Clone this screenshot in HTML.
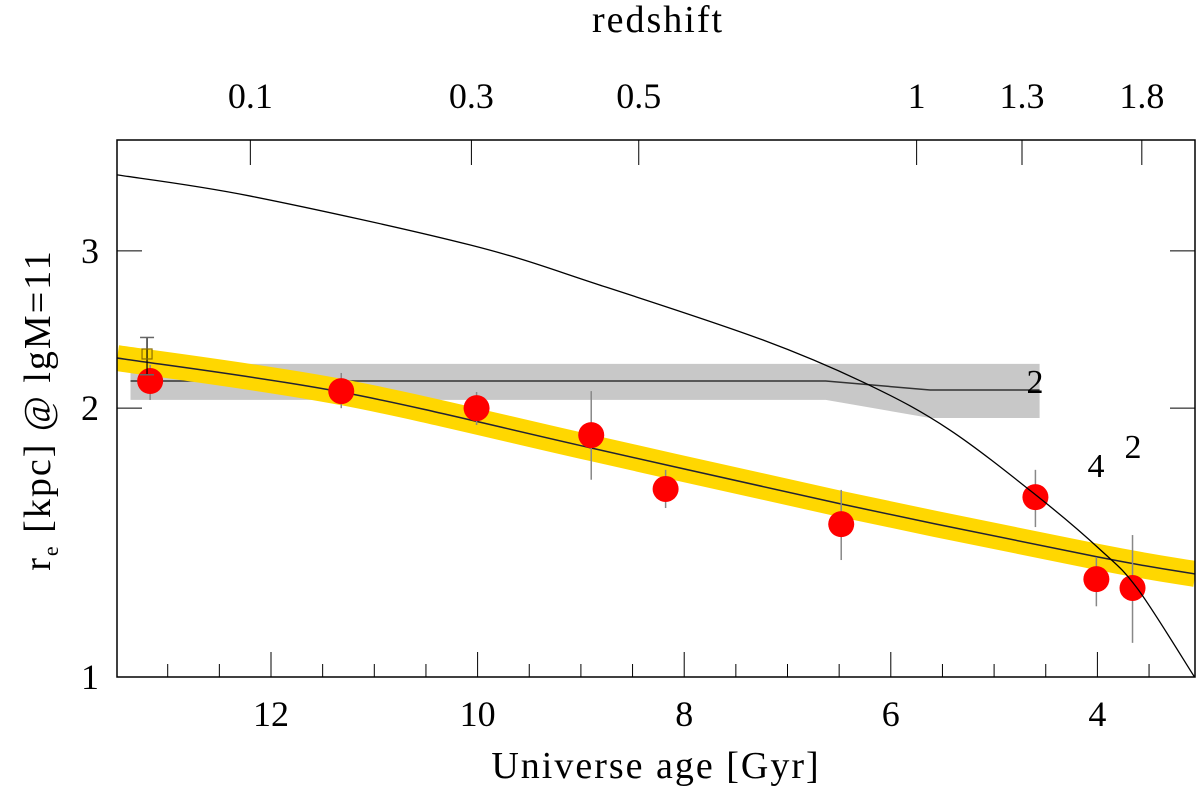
<!DOCTYPE html>
<html><head><meta charset="utf-8"><style>
body{margin:0;background:#fff}
text{font-family:"Liberation Serif","DejaVu Serif",serif;fill:#000}
</style></head><body>
<svg id="c" width="1200" height="790" xmlns="http://www.w3.org/2000/svg"></svg>
<script>
const pointAges=[13.17,11.32,10.01,8.90,8.18,6.48,4.60,4.01,3.66];
const pointR=[2.145,2.09,2.0,1.866,1.624,1.483,1.59,1.287,1.258];
const pointRLow=[2.043,2.0,1.915,1.663,1.546,1.352,1.472,1.20,1.092];
const pointRHigh=[2.236,2.19,2.085,2.09,1.706,1.62,1.706,1.362,1.442];
const squareAge=[13.2];const squareR=[2.3];const squareLow=[2.18];const squareHigh=[2.40];
const fitAges=[13.49,11.32,8.9,6.48,4.0,3.05];
const fitR=[2.276,2.085,1.805,1.562,1.363,1.304];
const grayAges=[13.36,6.63,5.62,4.56];
const grayTop=[2.242,2.242,2.242,2.242];
const grayBottom=[2.043,2.043,1.95,1.95];
const grayMid=[2.145,2.145,2.096,2.096];
const curveAges=[13.49,12.20,10.07,8.82,7.24,6.21,5.43,4.57,3.98,3.61,3.06];
const curveR=[3.65,3.456,3.046,2.748,2.385,2.123,1.891,1.59,1.391,1.255,1.0];
const xTicks=[12,10,8,6,4];
const yTicks=[1,2,3];
const zTicks=["0.1","0.3","0.5","1","1.3","1.8"];
const zTickAges=[12.20,10.06,8.44,5.75,4.73,3.57];

const L=117,R=1195,T=140,B=677;
const X=a=>271+(12-a)*103.3;
const Y=r=>677-893*Math.log10(r);
const svg=document.getElementById('c');
const NS='http://www.w3.org/2000/svg';
function mk(tag,at,parent){const e=document.createElementNS(NS,tag);for(const k in at)e.setAttribute(k,at[k]);(parent||svg).appendChild(e);return e;}
function pts(a,r){return a.map((v,i)=>X(v).toFixed(1)+','+Y(r[i]).toFixed(1)).join(' ');}
function smooth(a,r){const p=a.map((v,i)=>[X(v),Y(r[i])]);let d='M'+p[0][0]+','+p[0][1];
 for(let i=0;i<p.length-1;i++){const p0=p[Math.max(0,i-1)],p1=p[i],p2=p[i+1],p3=p[Math.min(p.length-1,i+2)];
  const c1=[p1[0]+(p2[0]-p0[0])/6,p1[1]+(p2[1]-p0[1])/6],c2=[p2[0]-(p3[0]-p1[0])/6,p2[1]-(p3[1]-p1[1])/6];
  d+=' C'+c1.join(',')+' '+c2.join(',')+' '+p2.join(',');}return d;}
const clip=mk('clipPath',{id:'cp'});mk('rect',{x:L,y:T,width:R-L,height:B-T},clip);
const g=mk('g',{'clip-path':'url(#cp)'});
let poly=pts(grayAges,grayTop)+' '+pts(grayAges.slice().reverse(),grayBottom.slice().reverse());
let e=mk('polygon',{points:poly,fill:'#c8c8c8'},g);


e=mk('polyline',{points:pts(grayAges,grayMid),fill:'none',stroke:'#333','stroke-width':1.5},g);


e=mk('path',{d:smooth(fitAges,fitR),fill:'none',stroke:'#ffd700','stroke-width':26},g);


e=mk('path',{d:smooth(fitAges,fitR),fill:'none',stroke:'#223','stroke-width':1.5},g);


pointAges.forEach((a,i)=>{
 const x=X(a);
 let l=mk('line',{x1:x,x2:x,y1:Y(pointRLow[i]),y2:Y(pointRHigh[i]),stroke:'#888','stroke-width':1.5},g);
 
 
 let c=mk('circle',{cx:x,cy:Y(pointR[i]),r:13,fill:'#ff0000'},g);
 
 
});
squareAge.forEach((a,i)=>{
 const x=X(a);
 let l=mk('line',{x1:x,x2:x,y1:Y(squareLow[i]),y2:Y(squareHigh[i]),stroke:'#000','stroke-width':1.2},g);
 
 
 mk('line',{x1:x-7,x2:x+7,y1:Y(squareLow[i]),y2:Y(squareLow[i]),stroke:'#666','stroke-width':1.5},g);
 mk('line',{x1:x-7,x2:x+7,y1:Y(squareHigh[i]),y2:Y(squareHigh[i]),stroke:'#666','stroke-width':1.5},g);
 let s=mk('rect',{x:x-5,y:Y(squareR[i])-5,width:10,height:10,fill:'none',stroke:'#8a6d00','stroke-width':1.2},g);
 
 
});
e=mk('path',{d:smooth(curveAges,curveR),fill:'none',stroke:'#000','stroke-width':1.3},g);


e=mk('rect',{x:L,y:T,width:R-L,height:B-T,fill:'none',stroke:'#000','stroke-width':1.5});


for(let a=13;a>=3.5;a-=0.5){const x=X(a);const maj=Math.abs(a-Math.round(a/2)*2)<1e-6;
 mk('line',{x1:x,x2:x,y1:B,y2:B-(maj?25:13),stroke:'#000','stroke-width':1});}
xTicks.forEach(a=>{const t=mk('text',{x:X(a),y:B+49,'font-size':36,'text-anchor':'middle'});t.textContent=a;
 
 });
yTicks.forEach(r=>{const y=Y(r);
 mk('line',{x1:L,x2:L+25,y1:y,y2:y,stroke:'#000'});mk('line',{x1:R-25,x2:R,y1:y,y2:y,stroke:'#000'});
 const t=mk('text',{x:L-18,y:y+12,'font-size':36,'text-anchor':'end'});t.textContent=r;
 
 });
zTicks.forEach((z,i)=>{const x=X(zTickAges[i]);
 mk('line',{x1:x,x2:x,y1:T,y2:T+25,stroke:'#000'});
 const t=mk('text',{x:x,y:108,'font-size':36,'text-anchor':'middle'});t.textContent=z;
 
 });
</script>
<svg style="position:absolute;left:0;top:0" width="1200" height="790" xmlns="http://www.w3.org/2000/svg">
<text x="656" y="778" font-size="38" text-anchor="middle" letter-spacing="2">Universe age [Gyr]</text>
<text x="658" y="32" font-size="38" text-anchor="middle" letter-spacing="2">redshift</text>
<text transform="translate(50,410) rotate(-90)" font-size="38" text-anchor="middle" letter-spacing="2">r<tspan font-size="22" dy="8">e</tspan><tspan dy="-8"> [kpc] @ lgM=11</tspan></text>
<text x="1035" y="393" font-size="34" text-anchor="middle">2</text>
<text x="1096" y="477" font-size="34" text-anchor="middle">4</text>
<text x="1133" y="458" font-size="34" text-anchor="middle">2</text>
</svg>
</body></html>
